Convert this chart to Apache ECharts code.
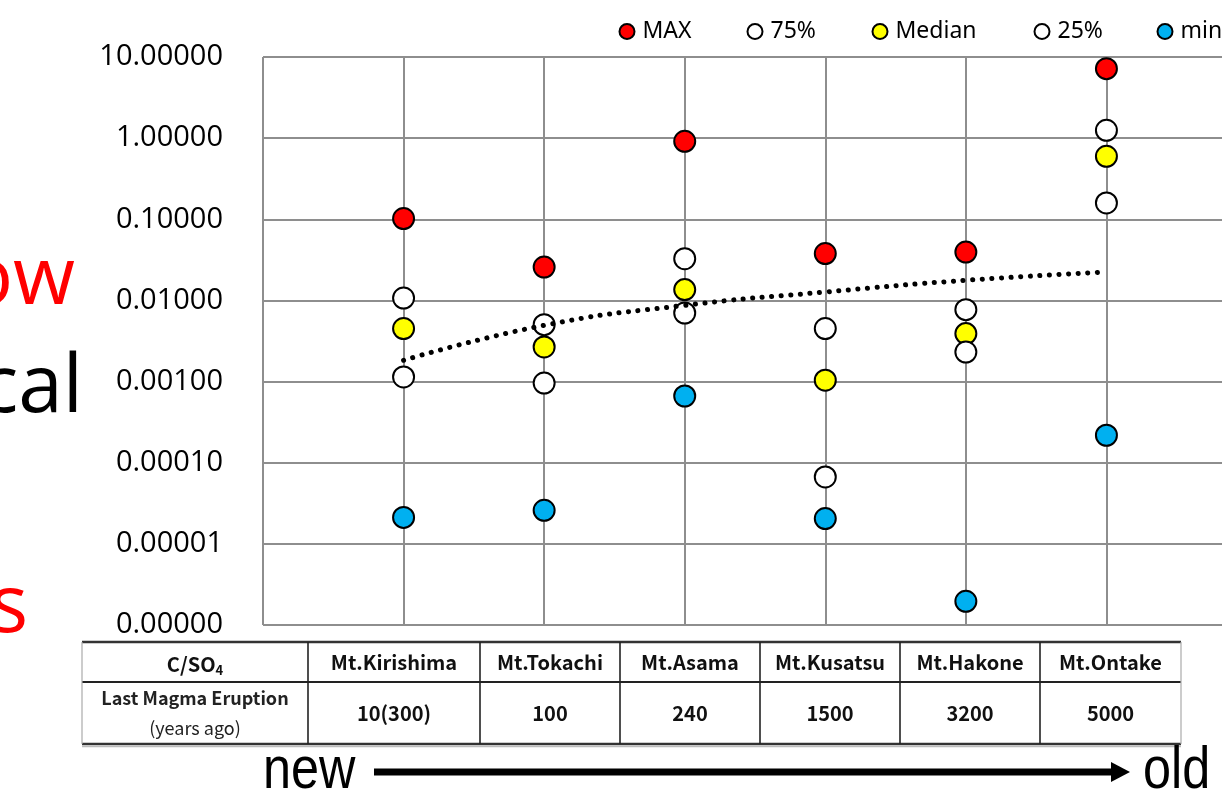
<!DOCTYPE html>
<html><head><meta charset="utf-8">
<script src="https://cdn.jsdelivr.net/npm/echarts@6/dist/echarts.min.js"></script>
<style>html,body{margin:0;padding:0;background:#fff;}#main{width:1222px;height:795px;}</style>
</head><body><div id="main"></div>
<script>
// ---- data ----
const categories = ['Mt.Kirishima', 'Mt.Tokachi', 'Mt.Asama', 'Mt.Kusatsu', 'Mt.Hakone', 'Mt.Ontake'];
const eruptionYears = ['10(300)', '100', '240', '1500', '3200', '5000'];
const maxValues    = [0.102, 0.0258, 0.914, 0.0378, 0.0395, 7.19];
const q75Values    = [0.0107, 0.00503, 0.0327, 0.0045, 0.0077, 1.25];
const medianValues = [0.0045, 0.00267, 0.0136, 0.00104, 0.0039, 0.597];
const q25Values    = [0.00114, 0.00096, 0.0070, 0.0000667, 0.00231, 0.159];
const minValues    = [0.0000212, 0.0000259, 0.000664, 0.0000205, 0.00000196, 0.000218];
const trendValues  = [0.00183, 0.00493, 0.0087, 0.0127, 0.0177, 0.0224];
const seriesNames  = ['MAX', '75%', 'Median', '25%', 'min'];
const tableHeader  = 'C/SO4';
const tableRowTitle = ['Last Magma Eruption', '(years ago)'];
const arrowLabels = ['new', 'old'];
const sideWords = ['Low', 'cal', 's'];

// ---- layout / style ----
const colors = { 'MAX': '#FF0000', '75%': '#FFFFFF', 'Median': '#FFFF00', '25%': '#FFFFFF', 'min': '#00B0F0' };
const seriesValues = { 'MAX': maxValues, '75%': q75Values, 'Median': medianValues, '25%': q25Values, 'min': minValues };
const legendCenters = [626, 754, 879, 1041, 1164];
const gridColor = '#8e8e8e';

const toPoints = vals => vals.map((v, i) => [i + 1, v]);

const scatterSeries = seriesNames.map(name => ({
  name: name,
  type: 'scatter',
  data: toPoints(seriesValues[name]),
  symbol: 'circle',
  symbolSize: 21,
  z: name === 'Median' ? 2 : 3,
  itemStyle: { color: colors[name], borderColor: '#000', borderWidth: 2, opacity: 1 },
  emphasis: { disabled: true }
}));

const legends = seriesNames.map((name, i) => ({
  data: [name],
  left: legendCenters[i] - 7.5,
  top: 20,
  padding: 0,
  icon: 'circle',
  itemWidth: 15,
  itemHeight: 15,
  selectedMode: false,
  textStyle: { fontFamily: 'Noto Sans', fontSize: 23, color: '#000', padding: [0, 0, 0, 3] }
}));

// ---- table + decorations as graphic ----
const colEdges = [82, 308, 480, 620, 760, 900, 1040, 1181];
const rowEdges = [642, 682, 744];
const tableFont = '"Noto Sans CJK JP"';
const g = [];
g.push({ type: 'line', shape: { x1: colEdges[0], y1: rowEdges[0], x2: colEdges[7], y2: rowEdges[0] }, style: { stroke: '#333', lineWidth: 2.5 } });
g.push({ type: 'line', shape: { x1: colEdges[0], y1: rowEdges[1], x2: colEdges[7], y2: rowEdges[1] }, style: { stroke: '#222', lineWidth: 1.8 } });
g.push({ type: 'line', shape: { x1: colEdges[0], y1: rowEdges[2], x2: colEdges[7], y2: rowEdges[2] }, style: { stroke: '#333', lineWidth: 2.5 } });
g.push({ type: 'line', shape: { x1: colEdges[0], y1: rowEdges[2] + 2.5, x2: colEdges[7], y2: rowEdges[2] + 2.5 }, style: { stroke: '#bbb', lineWidth: 1.5 } });
[0, 7].forEach(i => g.push({ type: 'line', shape: { x1: colEdges[i], y1: rowEdges[0], x2: colEdges[i], y2: rowEdges[2] }, style: { stroke: '#aaa', lineWidth: 1.2 } }));
for (let i = 1; i < 7; i++) {
  g.push({ type: 'line', shape: { x1: colEdges[i], y1: rowEdges[0], x2: colEdges[i], y2: rowEdges[2] }, style: { stroke: '#222', lineWidth: 1.6 } });
}
const r1c = (rowEdges[0] + rowEdges[1]) / 2;
const r2c = (rowEdges[1] + rowEdges[2]) / 2;
// header cell with subscript
g.push({
  type: 'text', x: (colEdges[0] + colEdges[1]) / 2, y: r1c + 2,
  style: {
    text: '{a|' + tableHeader.slice(0, -1) + '}{b|' + tableHeader.slice(-1) + '}',
    align: 'center', verticalAlign: 'middle',
    rich: {
      a: { fontFamily: tableFont, fontWeight: 'bold', fontSize: 20, fill: '#111', lineHeight: 26, verticalAlign: 'middle' },
      b: { fontFamily: tableFont, fontWeight: 'bold', fontSize: 13, fill: '#111', lineHeight: 14, verticalAlign: 'bottom' }
    }
  }
});
g.push({ type: 'text', x: (colEdges[0] + colEdges[1]) / 2, y: r2c - 15, style: { text: tableRowTitle[0], align: 'center', verticalAlign: 'middle', font: 'bold 18px ' + tableFont, fill: '#222' } });
g.push({ type: 'text', x: (colEdges[0] + colEdges[1]) / 2, y: r2c + 15, style: { text: tableRowTitle[1], align: 'center', verticalAlign: 'middle', font: '18px ' + tableFont, fill: '#222' } });
categories.forEach((c, i) => {
  const cx = (colEdges[i + 1] + colEdges[i + 2]) / 2;
  g.push({ type: 'text', x: cx, y: r1c, style: { text: c, align: 'center', verticalAlign: 'middle', font: 'bold 20px ' + tableFont, fill: '#111' } });
  g.push({ type: 'text', x: cx, y: r2c, style: { text: eruptionYears[i], align: 'center', verticalAlign: 'middle', font: 'bold 20px ' + tableFont, fill: '#111' } });
});
// arrow
const arrowFont = '60px "Liberation Sans", sans-serif';
g.push({ type: 'text', x: 263, y: 771, scaleX: 0.84, style: { text: arrowLabels[0], align: 'left', verticalAlign: 'middle', font: arrowFont, fill: '#000' } });
g.push({ type: 'text', x: 1143, y: 771, scaleX: 0.84, style: { text: arrowLabels[1], align: 'left', verticalAlign: 'middle', font: arrowFont, fill: '#000' } });
g.push({ type: 'line', shape: { x1: 374, y1: 772, x2: 1114, y2: 772 }, style: { stroke: '#000', lineWidth: 7 } });
g.push({ type: 'polygon', shape: { points: [[1111, 762], [1130, 772], [1111, 782]] }, style: { fill: '#000' } });
// cropped slide text on the left
const sideFont = '80px "Open Sans", sans-serif';
g.push({ type: 'text', x: 75, y: 281, style: { text: sideWords[0], align: 'right', verticalAlign: 'middle', font: sideFont, fill: '#FF0000' } });
g.push({ type: 'text', x: 83, y: 389, style: { text: sideWords[1], align: 'right', verticalAlign: 'middle', font: sideFont, fill: '#000' } });
g.push({ type: 'text', x: 28, y: 609, style: { text: sideWords[2], align: 'right', verticalAlign: 'middle', font: sideFont, fill: '#FF0000' } });

const chart = echarts.init(document.getElementById('main'), null, { renderer: 'canvas' });
chart.setOption({
  animation: false,
  backgroundColor: '#fff',
  legend: legends,
  grid: { left: 263, right: -25, top: 57, bottom: 170, containLabel: false, outerBoundsMode: 'none' },
  xAxis: {
    type: 'value', min: 0, max: 7, interval: 1,
    axisLabel: { show: false }, axisTick: { show: false }, axisLine: { show: false },
    splitLine: { show: true, lineStyle: { color: gridColor, width: 2 } }
  },
  yAxis: {
    type: 'log', logBase: 10, min: 0.000001, max: 10,
    axisLine: { show: false }, axisTick: { show: false },
    axisLabel: { margin: 40, fontFamily: 'Open Sans', fontSize: 29, color: '#000', formatter: v => Number(v).toFixed(5) },
    splitLine: { show: true, lineStyle: { color: gridColor, width: 2 } }
  },
  series: scatterSeries.concat([{
    name: 'trend',
    type: 'line',
    data: toPoints(trendValues),
    smooth: true,
    symbol: 'none',
    silent: true,
    z: 5,
    lineStyle: { color: '#000', width: 5, type: [0.1, 9.5], cap: 'round' }
  }]),
  graphic: { elements: g }
});
</script>
</body></html>
